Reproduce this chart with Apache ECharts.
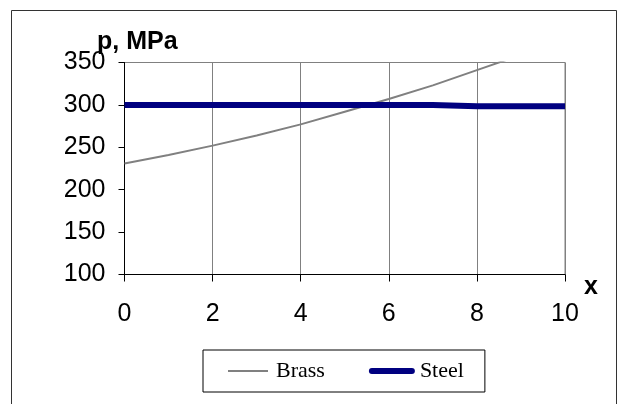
<!DOCTYPE html>
<html>
<head>
<meta charset="utf-8">
<script src="https://cdn.jsdelivr.net/npm/echarts@6/dist/echarts.min.js"></script>
<style>
html,body{margin:0;padding:0;background:#fff;}
#chart{width:619px;height:404px;}
</style>
</head>
<body>
<div id="chart"></div>
<script>
// Data
var xValues = [0, 1, 2, 3, 4, 5, 6, 7, 8, 9, 10];
var brass = [231, 241, 252, 264, 277, 292, 307, 323, 341, 359, 378];
var steel = [300, 300, 300, 300, 300, 300, 300, 300, 298.5, 298.5, 298.5];
var seriesNames = ['Brass', 'Steel'];
var yTitle = 'p, MPa';
var xTitle = 'x';

function pairs(xs, ys) {
  return xs.map(function (x, i) { return [x, ys[i]]; });
}

var chart = echarts.init(document.getElementById('chart'));
var numFont = 'Liberation Sans, Arial, sans-serif';

chart.setOption({
  animation: false,
  backgroundColor: '#fff',
  grid: {
    left: 124.5,
    right: 54,
    top: 62.5,
    bottom: 129.5,
    show: true,
    borderColor: '#808080',
    borderWidth: 1,
    backgroundColor: 'transparent'
  },
  xAxis: {
    type: 'value',
    min: 0,
    max: 10,
    interval: 2,
    axisLine: { show: true, lineStyle: { color: '#000', width: 1 } },
    axisTick: { show: true, length: 7, lineStyle: { color: '#000' } },
    axisLabel: { color: '#000', fontSize: 25, fontFamily: numFont, margin: 27 },
    splitLine: { show: true, lineStyle: { color: '#808080', width: 1 } }
  },
  yAxis: {
    type: 'value',
    min: 100,
    max: 350,
    interval: 50,
    axisLine: { show: true, lineStyle: { color: '#000', width: 1 } },
    axisTick: { show: true, length: 6, lineStyle: { color: '#000' } },
    axisLabel: { color: '#000', fontSize: 25, fontFamily: numFont, margin: 19 },
    splitLine: { show: false }
  },
  legend: {
    left: 203,
    top: 350,
    orient: 'horizontal',
    backgroundColor: '#fff',
    borderColor: '#000',
    borderWidth: 1,
    padding: [10, 21, 10, 24],
    itemWidth: 40,
    itemHeight: 14,
    itemGap: 44,
    itemStyle: { opacity: 0 },
    textStyle: {
      color: '#000',
      fontSize: 22,
      fontFamily: 'Liberation Serif, Times New Roman, serif',
      lineHeight: 22,
      padding: [0, 0, 0, 3]
    },
    data: [
      { name: seriesNames[0], itemStyle: { opacity: 0 }, lineStyle: { width: 2, color: '#808080' } },
      { name: seriesNames[1], itemStyle: { opacity: 0 }, lineStyle: { width: 6, color: '#000080', cap: 'round' } }
    ]
  },
  graphic: [
    {
      type: 'rect',
      silent: true,
      z: -10,
      shape: { x: 11.5, y: 10.5, width: 605, height: 420 },
      style: { fill: 'none', stroke: '#333', lineWidth: 1 }
    },
    {
      type: 'text',
      x: 97,
      y: 42,
      style: {
        text: yTitle,
        fill: '#000',
        font: 'bold 25px Liberation Sans, Arial, sans-serif',
        textAlign: 'left',
        textVerticalAlign: 'middle'
      }
    },
    {
      type: 'text',
      x: 591,
      y: 287,
      style: {
        text: xTitle,
        fill: '#000',
        font: 'bold 25px Liberation Sans, Arial, sans-serif',
        textAlign: 'center',
        textVerticalAlign: 'middle'
      }
    }
  ],
  series: [
    {
      name: seriesNames[0],
      type: 'line',
      data: pairs(xValues, brass),
      symbol: 'none',
      showSymbol: false,
      clip: true,
      lineStyle: { color: '#808080', width: 2 },
      itemStyle: { color: '#808080' }
    },
    {
      name: seriesNames[1],
      type: 'line',
      data: pairs(xValues, steel),
      symbol: 'none',
      showSymbol: false,
      clip: true,
      lineStyle: { color: '#000080', width: 6 },
      itemStyle: { color: '#000080' }
    }
  ]
});
</script>
</body>
</html>
